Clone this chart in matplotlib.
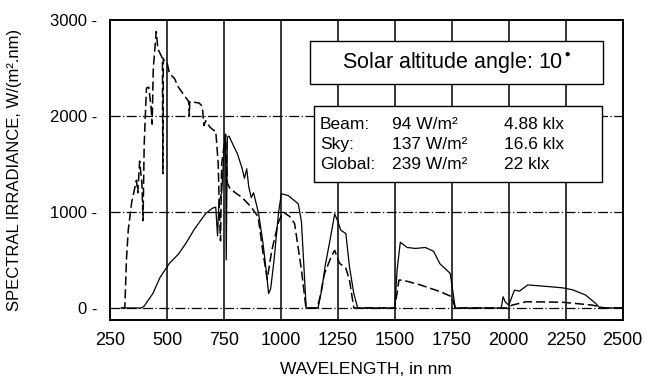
import matplotlib
matplotlib.use("Agg")
import matplotlib.pyplot as plt
from matplotlib.patches import Rectangle

plt.rcParams["font.family"] = ["Liberation Sans", "DejaVu Sans"]

# dashed curve (sky)
sky_wl = [300, 315, 322, 330, 345, 366, 372, 380, 390, 395,
          400, 410, 420, 430, 435, 440, 453, 460, 470, 480,
          482, 484, 490, 502, 510, 520, 533, 550, 565, 580,
          595, 598, 600, 610, 625, 641, 655, 662, 670, 690,
          705, 714, 725, 730, 735, 740, 757, 765, 775, 800,
          830, 850, 870, 900, 920, 940, 960, 990, 1010, 1040,
          1060, 1090, 1110, 1160, 1175, 1190, 1220, 1236, 1257, 1285,
          1301, 1320, 1500, 1518, 1535, 1612, 1699, 1750, 1765, 1990,
          2015, 2076, 2235, 2366, 2420, 2500]
sky_val = [0, 0, 500, 810, 1100, 1330, 1200, 1530, 1300, 910,
           1700, 2290, 2300, 2100, 1915, 2500, 2880, 2700, 2650, 2600,
           1400, 2600, 2550, 2540, 2450, 2420, 2390, 2300, 2250, 2200,
           2150, 2000, 2150, 2150, 2140, 2135, 2100, 1900, 1950, 1880,
           1850, 1845, 1500, 1000, 700, 1500, 1810, 1300, 1250, 1200,
           1150, 1100, 1050, 950, 600, 300, 600, 900, 1000, 950,
           880, 400, 0, 0, 150, 350, 530, 600, 466, 415,
           290, 0, 0, 290, 290, 240, 170, 117, 0, 0,
           30, 65, 60, 30, 0, 0]

# solid curve (beam)
beam_wl = [300, 388, 400, 438, 470, 511, 550, 583, 620, 670,
           700, 714, 722, 728, 740, 752, 757, 760, 765, 772,
           790, 810, 829, 840, 850, 859, 870, 880, 902, 920,
           935, 946, 955, 970, 990, 1002, 1033, 1076, 1090, 1111,
           1163, 1180, 1195, 1215, 1236, 1250, 1263, 1285, 1301, 1320,
           1337, 1500, 1510, 1524, 1554, 1590, 1634, 1670, 1698, 1743,
           1765, 1967, 1975, 1985, 2000, 2025, 2047, 2083, 2163, 2235,
           2279, 2337, 2380, 2400, 2500]
beam_val = [0, 0, 20, 150, 320, 466, 560, 673, 820, 984,
            1040, 1050, 750, 1100, 1200, 1700, 1800, 500, 1780, 1790,
            1700, 1600, 1460, 1350, 1450, 1260, 1150, 1200, 985, 700,
            400, 150, 200, 500, 1000, 1190, 1170, 1085, 900, 0,
            0, 200, 450, 700, 980, 900, 810, 775, 425, 150,
            0, 0, 400, 685, 630, 620, 630, 590, 460, 360,
            0, 0, 117, 60, 30, 186, 175, 240, 225, 210,
            190, 135, 50, 0, 0]

x_ticks = [250, 500, 750, 1000, 1250, 1500, 1750, 2000, 2250, 2500]
y_ticks = [0, 1000, 2000, 3000]

title_text = "Solar altitude angle: 10$^{\\bullet}$"
rows = [("Beam:", "94 W/m²", "4.88 klx"),
        ("Sky:", "137 W/m²", "16.6 klx"),
        ("Global:", "239 W/m²", "22 klx")]

fig = plt.figure(figsize=(6.49, 3.76), dpi=100)
ax = fig.add_axes([0.1695, 0.149, 0.79, 0.798])

for x in x_ticks[1:-1]:
    ax.axvline(x, color="black", lw=1.1, zorder=1)
for y in y_ticks[:-1]:
    ax.axhline(y, color="black", lw=0.9, ls=(0, (8, 2, 1, 2)), zorder=1)

ax.plot(sky_wl, sky_val, color="black", lw=1.1, ls=(0, (6, 2.5)), zorder=3)
ax.plot(beam_wl, beam_val, color="black", lw=0.9, zorder=3)

ax.add_patch(Rectangle((1128, 2331), 1287, 445, facecolor="white",
                       edgecolor="black", lw=1.0, zorder=4))
ax.text(1771, 2550, title_text, ha="center", va="center", fontsize=15.5, zorder=5)

ax.add_patch(Rectangle((1146, 1316), 1261, 787, facecolor="white",
                       edgecolor="black", lw=1.0, zorder=4))
for i, (name, power, lux) in enumerate(rows):
    yy = 1906 - i * 207
    ax.text(1172, yy, name, ha="left", va="center", fontsize=12.5, zorder=5)
    ax.text(1489, yy, power, ha="left", va="center", fontsize=12.5, zorder=5)
    ax.text(1980, yy, lux, ha="left", va="center", fontsize=12.5, zorder=5)

ax.set_xlim(250, 2500)
ax.set_ylim(-125, 3000)
ax.set_xticks(x_ticks)
ax.set_xticklabels([str(v) for v in x_ticks], fontsize=13)
ax.set_yticks(y_ticks)
ax.set_yticklabels([f"{v} -" for v in y_ticks], fontsize=12)
ax.tick_params(axis="x", length=0, pad=9)
ax.tick_params(axis="y", length=0, pad=9)
for s in ax.spines.values():
    s.set_linewidth(1.4)

ax.set_xlabel("WAVELENGTH, in nm", fontsize=12.5, labelpad=9)
ax.set_ylabel("SPECTRAL IRRADIANCE, W/(m².nm)", fontsize=12, labelpad=20)

fig.savefig("out.png", dpi=100)
